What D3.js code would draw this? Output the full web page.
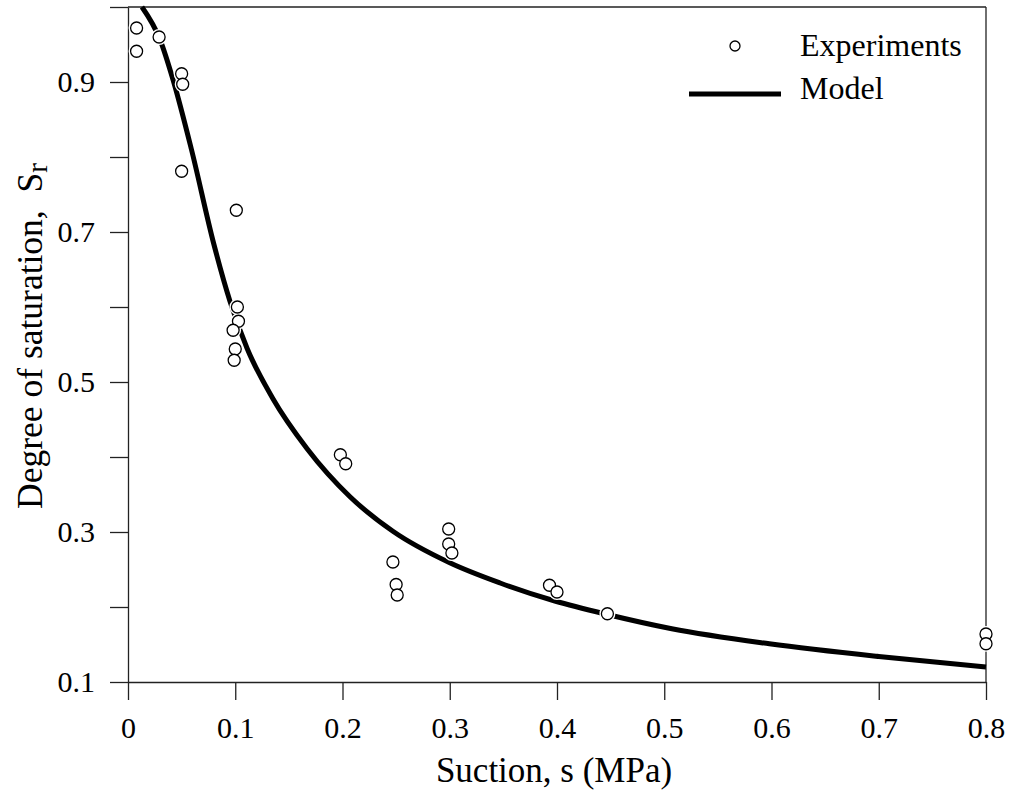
<!DOCTYPE html>
<html>
<head>
<meta charset="utf-8">
<script src="https://cdn.jsdelivr.net/npm/d3@7"></script>
<style>
  html, body { margin: 0; padding: 0; background: #fff; }
  svg { display: block; }
</style>
</head>
<body>
<svg id="chart" width="1010" height="800"></svg>
<script>
// Experimental data: suction s (MPa) and degree of saturation Sr
const expSuction = [0.008, 0.008, 0.029, 0.050, 0.051, 0.050, 0.101, 0.102, 0.103, 0.098, 0.100, 0.099,
                    0.198, 0.203, 0.247, 0.250, 0.251, 0.299, 0.299, 0.302, 0.393, 0.400, 0.447, 0.800, 0.800];
const expSr      = [0.972, 0.941, 0.960, 0.911, 0.897, 0.781, 0.729, 0.600, 0.581, 0.569, 0.544, 0.529,
                    0.403, 0.391, 0.260, 0.230, 0.216, 0.304, 0.284, 0.272, 0.229, 0.220, 0.191, 0.164, 0.151];

// Model curve
const modelSuction = [0.013, 0.030, 0.042, 0.059, 0.080, 0.095, 0.111, 0.135, 0.167, 0.207, 0.247,
                      0.300, 0.347, 0.398, 0.447, 0.507, 0.598, 0.700, 0.800];
const modelSr      = [1.000, 0.956, 0.903, 0.811, 0.684, 0.608, 0.545, 0.478, 0.411, 0.347, 0.301,
                      0.259, 0.232, 0.208, 0.190, 0.171, 0.151, 0.134, 0.120];

const xTicks = [0, 0.1, 0.2, 0.3, 0.4, 0.5, 0.6, 0.7, 0.8];
const yTicks = [0.1, 0.2, 0.3, 0.4, 0.5, 0.6, 0.7, 0.8, 0.9, 1.0];
const yLabelled = [0.1, 0.3, 0.5, 0.7, 0.9];

(function () {
const FONT = "'Liberation Serif', 'Times New Roman', Times, 'DejaVu Serif', serif";
const svg = d3.select("#chart");
const pLeft = 128, pRight = 986, pTop = 7, pBottom = 682;

const x = d3.scaleLinear().domain([0, 0.8]).range([pLeft, pRight]);
const y = d3.scaleLinear().domain([0.1, 1.0]).range([pBottom, pTop]);

const axisColor = "#222";

// X axis
const xAxis = d3.axisBottom(x).tickValues(xTicks).tickSize(18).tickSizeOuter(0).tickPadding(17)
  .tickFormat(d => d === 0 ? "0" : d3.format(".1f")(d));
const gx = svg.append("g").attr("transform", `translate(0,${pBottom})`).call(xAxis);
gx.attr("font-family", FONT).attr("font-size", 30);
gx.selectAll("text").attr("fill", "#000");
gx.selectAll("line, path").attr("stroke", axisColor).attr("stroke-width", 1.3);

// Y axis
const yAxis = d3.axisLeft(y).tickValues(yTicks).tickSize(18).tickSizeOuter(0).tickPadding(15)
  .tickFormat(d => yLabelled.some(v => Math.abs(v - d) < 1e-9) ? d3.format(".1f")(d) : "");
const gy = svg.append("g").attr("transform", `translate(${pLeft},0)`).call(yAxis);
gy.attr("font-family", FONT).attr("font-size", 30);
gy.selectAll("text").attr("fill", "#000");
gy.selectAll("line, path").attr("stroke", axisColor).attr("stroke-width", 1.3);

// Top and right frame lines
svg.append("line").attr("x1", pLeft).attr("x2", pRight).attr("y1", y(1.0)).attr("y2", y(1.0))
  .attr("stroke", axisColor).attr("stroke-width", 1.3);
svg.append("line").attr("x1", pRight).attr("x2", pRight).attr("y1", y(1.0)).attr("y2", pBottom)
  .attr("stroke", axisColor).attr("stroke-width", 1.3);

// Model curve
const modelData = modelSuction.map((s, i) => ({s, v: modelSr[i]}));
const line = d3.line().x(d => x(d.s)).y(d => y(d.v)).curve(d3.curveMonotoneX);
svg.append("path").datum(modelData).attr("d", line)
  .attr("fill", "none").attr("stroke", "#000").attr("stroke-width", 5).attr("stroke-linecap", "butt");

// Experiments
const expData = expSuction.map((s, i) => ({s, v: expSr[i]}));
const pts = svg.append("g");
pts.selectAll("circle.halo").data(expData).join("circle").attr("class", "halo")
  .attr("cx", d => x(d.s)).attr("cy", d => y(d.v)).attr("r", 6)
  .attr("fill", "#fff").attr("stroke", "#fff").attr("stroke-width", 4);
pts.selectAll("circle.pt").data(expData).join("circle").attr("class", "pt")
  .attr("cx", d => x(d.s)).attr("cy", d => y(d.v)).attr("r", 6)
  .attr("fill", "#fff").attr("stroke", "#000").attr("stroke-width", 1.3);

// Axis titles
svg.append("text").attr("x", 554).attr("y", 782).attr("text-anchor", "middle")
  .attr("font-family", FONT).attr("font-size", 35).text("Suction, s (MPa)");

const yt = svg.append("text").attr("transform", "translate(42,336) rotate(-90)")
  .attr("text-anchor", "middle").attr("font-family", FONT).attr("font-size", 35.5)
  .style("white-space", "pre");
yt.append("tspan").text("Degree of saturation,  S");
yt.append("tspan").attr("dy", 5).attr("font-size", 29).text("r");

// Legend
const lg = svg.append("g").attr("font-family", FONT).attr("font-size", 32);
lg.append("circle").attr("cx", 735).attr("cy", 46).attr("r", 5)
  .attr("fill", "#fff").attr("stroke", "#000").attr("stroke-width", 1.3);
lg.append("text").attr("x", 800).attr("y", 56).text("Experiments");
lg.append("line").attr("x1", 689).attr("x2", 781).attr("y1", 94).attr("y2", 94)
  .attr("stroke", "#000").attr("stroke-width", 5);
lg.append("text").attr("x", 800).attr("y", 99).text("Model");
})();
</script>
</body>
</html>
